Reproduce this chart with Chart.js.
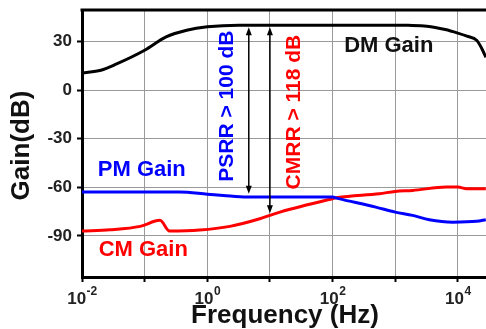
<!DOCTYPE html>
<html>
<head>
<meta charset="utf-8">
<script src="https://cdn.jsdelivr.net/npm/chart.js@4.4.0/dist/chart.umd.min.js"></script>
<style>
  html, body { margin: 0; padding: 0; background: #fff; }
</style>
</head>
<body>
<canvas id="gainChart" width="486" height="329"></canvas>
<script>
// värden: frekvens (Hz) och förstärkning (dB)
const dmFreq = [0.01, 0.02, 0.035, 0.1, 0.22, 0.47, 1, 3.2, 10, 100, 1000, 1600, 3200, 6300, 10000, 14000, 20000, 24000, 28000];
const dmGain = [10.7, 12.4, 16.1, 24.7, 33, 37.1, 39.2, 40.2, 40.2, 40.2, 40.2, 40.1, 39.6, 37.5, 35.3, 33.4, 30.9, 26, 20.4];

const pmFreq = [0.01, 0.1, 0.36, 1, 1.8, 4.3, 10, 100, 120, 490, 1000, 1900, 3500, 8300, 20000, 28000];
const pmGain = [-62.9, -62.9, -62.9, -64.2, -65, -66, -66, -66, -66.8, -72.2, -75.3, -77.3, -80, -81.5, -81, -80];

const cmFreq = [0.01, 0.028, 0.085, 0.176, 0.25, 0.76, 2.3, 6.9, 10, 14.5, 100, 120, 560, 1000, 1900, 6600, 10000, 13800, 28000];
const cmGain = [-87, -86.2, -84.1, -80.4, -87, -86.4, -84.1, -79.4, -77.3, -75.3, -67, -66.3, -63.9, -62.5, -61.9, -59.8, -59.8, -60.8, -60.8];

const xTicks = [0.01, 0.1, 1, 10, 100, 1000, 10000];
const yTicks = [-90, -60, -30, 0, 30];

// pilar: frekvens, övre och undre nivå (dB)
const psrrArrow = [4.6, 39, -64];
const cmrrArrow = [10, 39, -76];

const FONT = '"Liberation Sans", Arial, sans-serif';

function toPoints(freq, gain) {
  return freq.map((f, i) => ({ x: f, y: gain[i] }));
}

function drawArrow(ctx, x, y, arrow) {
  const px = x.getPixelForValue(arrow[0]);
  const top = y.getPixelForValue(arrow[1]);
  const bottom = y.getPixelForValue(arrow[2]);
  ctx.strokeStyle = "#000";
  ctx.fillStyle = "#000";
  ctx.lineWidth = 1.5;
  ctx.beginPath();
  ctx.moveTo(px, top + 4);
  ctx.lineTo(px, bottom - 4);
  ctx.stroke();
  // spetsar
  ctx.beginPath();
  ctx.moveTo(px, top);
  ctx.lineTo(px - 3, top + 8);
  ctx.lineTo(px + 3, top + 8);
  ctx.closePath();
  ctx.fill();
  ctx.beginPath();
  ctx.moveTo(px, bottom);
  ctx.lineTo(px - 3, bottom - 8);
  ctx.lineTo(px + 3, bottom - 8);
  ctx.closePath();
  ctx.fill();
}

function drawRotated(ctx, text, px, py, color) {
  ctx.save();
  ctx.translate(px, py);
  ctx.rotate(-Math.PI / 2);
  ctx.fillStyle = color;
  ctx.textAlign = "center";
  ctx.textBaseline = "alphabetic";
  ctx.fillText(text, 0, 0);
  ctx.restore();
}

const annotations = {
  id: "annotations",
  afterDraw(chart) {
    const { ctx, chartArea } = chart;
    const x = chart.scales.x;
    const y = chart.scales.y;
    ctx.save();

    // övre ram
    ctx.strokeStyle = "#000";
    ctx.lineWidth = 3;
    ctx.beginPath();
    ctx.moveTo(chartArea.left - 1.5, chartArea.top);
    ctx.lineTo(chartArea.right, chartArea.top);
    ctx.stroke();

    drawArrow(ctx, x, y, psrrArrow);
    drawArrow(ctx, x, y, cmrrArrow);

    // x-axelns etiketter med exponent
    ctx.fillStyle = "#222";
    ctx.textBaseline = "alphabetic";
    ctx.textAlign = "left";
    x.ticks.forEach((t) => {
      const exp = String(Math.round(Math.log10(t.value)));
      if (Math.abs(Number(exp)) % 2 === 1) return;
      ctx.font = "bold 17px " + FONT;
      const wBase = ctx.measureText("10").width;
      ctx.font = "bold 12px " + FONT;
      const wExp = ctx.measureText(exp).width;
      const start = x.getPixelForValue(t.value) - (wBase + wExp) / 2;
      ctx.font = "bold 17px " + FONT;
      ctx.fillText("10", start, chartArea.bottom + 27);
      ctx.font = "bold 12px " + FONT;
      ctx.fillText(exp, start + wBase + 0.5, chartArea.bottom + 18);
    });

    // axeltitlar
    ctx.font = "bold 26px " + FONT;
    ctx.fillStyle = "#111";
    ctx.textAlign = "center";
    ctx.textBaseline = "middle";
    ctx.fillText("Frequency (Hz)", (chartArea.left + chartArea.right) / 2 + 1, chartArea.bottom + 39);
    ctx.save();
    ctx.translate(22, (chartArea.top + chartArea.bottom) / 2 + 2);
    ctx.rotate(-Math.PI / 2);
    ctx.fillText("Gain(dB)", 0, 0);
    ctx.restore();

    // kurvetiketter
    ctx.font = "bold 22px " + FONT;
    ctx.textAlign = "center";
    ctx.textBaseline = "alphabetic";
    ctx.fillStyle = "#111";
    ctx.fillText("DM Gain", x.getPixelForValue(790), y.getPixelForValue(23.6));
    ctx.fillStyle = "#0000ff";
    ctx.fillText("PM Gain", x.getPixelForValue(0.09), y.getPixelForValue(-53.1));
    ctx.fillStyle = "#ff0000";
    ctx.fillText("CM Gain", x.getPixelForValue(0.095), y.getPixelForValue(-102.4));

    ctx.font = "bold 21px " + FONT;
    drawRotated(ctx, "PSRR > 100 dB", x.getPixelForValue(2.57), y.getPixelForValue(-9.8), "#0000ff");
    drawRotated(ctx, "CMRR > 118 dB", x.getPixelForValue(30), y.getPixelForValue(-13.5), "#ff0000");

    ctx.restore();
  },
};

function lineSet(label, freq, gain, color) {
  return {
    label: label,
    data: toPoints(freq, gain),
    borderColor: color,
    backgroundColor: color,
    borderWidth: 3,
    pointRadius: 0,
    cubicInterpolationMode: "monotone",
  };
}

new Chart(document.getElementById("gainChart"), {
  type: "line",
  data: {
    datasets: [
      lineSet("DM Gain", dmFreq, dmGain, "#000000"),
      lineSet("PM Gain", pmFreq, pmGain, "#0000ff"),
      lineSet("CM Gain", cmFreq, cmGain, "#ff0000"),
    ],
  },
  options: {
    responsive: false,
    animation: false,
    layout: { padding: { top: 10, right: 0, bottom: 0, left: 0 } },
    plugins: {
      legend: { display: false },
      tooltip: { enabled: false },
    },
    scales: {
      x: {
        type: "logarithmic",
        min: 0.01,
        max: 28184,
        afterBuildTicks: (scale) => {
          scale.ticks = xTicks.map((v) => ({ value: v }));
        },
        afterFit: (scale) => {
          scale.height = 52;
        },
        ticks: { display: false },
        grid: { color: "#9a9a9a", lineWidth: 1, tickColor: "#000", tickWidth: 2, tickLength: 5 },
        border: { color: "#000", width: 3 },
      },
      y: {
        min: -115.4,
        max: 49.6,
        afterBuildTicks: (scale) => {
          scale.ticks = yTicks.map((v) => ({ value: v }));
        },
        afterFit: (scale) => {
          scale.width = 82;
          scale.paddingTop = 0;
          scale.paddingBottom = 0;
        },
        ticks: {
          color: "#222",
          padding: 5,
          font: { family: FONT, size: 17, weight: "bold" },
        },
        grid: { color: "#9a9a9a", lineWidth: 1, tickColor: "#000", tickWidth: 2, tickLength: 5 },
        border: { color: "#000", width: 3 },
      },
    },
  },
  plugins: [annotations],
});
</script>
</body>
</html>
